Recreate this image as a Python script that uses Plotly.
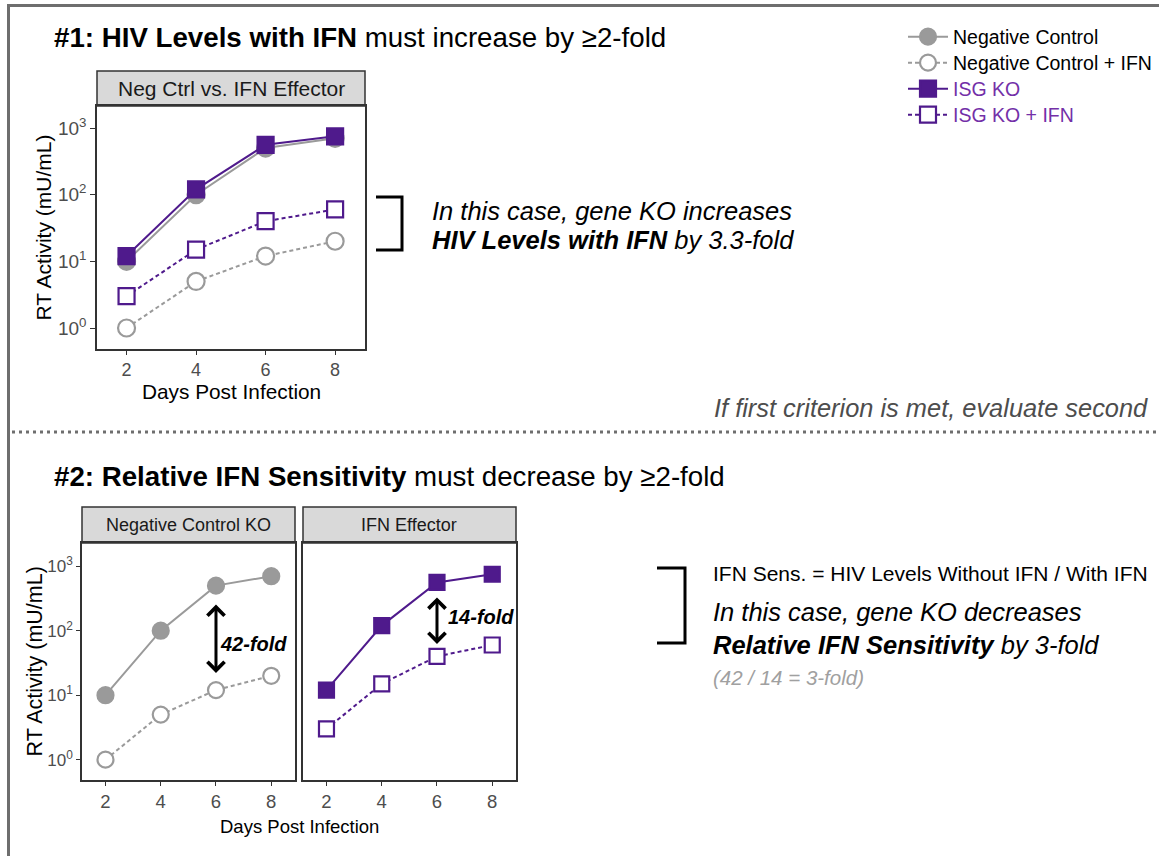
import plotly.graph_objects as go

# ---- data -------------------------------------------------------------
days = [2, 4, 6, 8]
neg_ctrl = [10, 100, 500, 700]          # Negative Control
neg_ctrl_ifn = [1, 5, 12, 20]           # Negative Control + IFN
isg_ko = [12, 120, 560, 750]            # ISG KO
isg_ko_ifn = [3, 15, 40, 60]            # ISG KO + IFN
y_tickvals = [1, 10, 100, 1000]
y_ticktext = ["10<sup>0</sup>", "10<sup>1</sup>", "10<sup>2</sup>", "10<sup>3</sup>"]
x_tickvals = [2, 4, 6, 8]

# fold changes stated in the labels, computed at day 6
ref_day = days.index(6)
fold_neg = neg_ctrl[ref_day] / neg_ctrl_ifn[ref_day]
fold_isg = isg_ko[ref_day] / isg_ko_ifn[ref_day]
fold_with_ifn = isg_ko_ifn[ref_day] / neg_ctrl_ifn[ref_day]
fold_rel = round(fold_neg) / round(fold_isg)

# ---- styling ----------------------------------------------------------
W, H = 1159, 856
FONT = "Liberation Sans, Arial, sans-serif"
GRAY = "#9a9a9a"
PURPLE = "#4f1a8c"
PURPLE_TXT = "#7330a8"
AX = "#333333"
TICK_TXT = "#4d4d4d"


def px(x):
    return x / W


def py(y):
    return 1 - y / H


fig = go.Figure()

series = [
    ("Negative Control", neg_ctrl, GRAY, "circle", GRAY, "solid"),
    ("Negative Control + IFN", neg_ctrl_ifn, GRAY, "circle", "white", "4px,3px"),
    ("<span style='color:%s'>ISG KO</span>" % PURPLE_TXT, isg_ko, PURPLE, "square", PURPLE, "solid"),
    ("<span style='color:%s'>ISG KO + IFN</span>" % PURPLE_TXT, isg_ko_ifn, PURPLE, "square", "white", "4px,3px"),
]
legend_ids = ["legend", "legend2", "legend3", "legend4"]
legend_rows = [37, 63, 89, 115]

# top panel: all four series, each with its own legend row
for (name, vals, col, sym, fill, dash), lg in zip(series, legend_ids):
    fig.add_trace(go.Scatter(
        x=days, y=vals, name=name, mode="lines+markers", xaxis="x", yaxis="y",
        line=dict(color=col, width=2, dash=dash),
        marker=dict(symbol=sym, size=17 if sym == "circle" else 16, color=fill,
                    line=dict(color=col, width=2.2)),
        showlegend=True, legend=lg,
    ))

# bottom panels: control pair on the left, effector pair on the right
for (name, vals, col, sym, fill, dash), ax in zip(series, ["2", "2", "3", "3"]):
    fig.add_trace(go.Scatter(
        x=days, y=vals, mode="lines+markers", xaxis="x" + ax, yaxis="y" + ax,
        line=dict(color=col, width=2, dash=dash),
        marker=dict(symbol=sym, size=16 if sym == "circle" else 15, color=fill,
                    line=dict(color=col, width=2.2)),
        showlegend=False,
    ))

x_range = [1.15, 8.86]
common_x = dict(range=x_range, tickvals=x_tickvals, showline=True, mirror=True,
                linecolor=AX, linewidth=1.5, ticks="outside", ticklen=4, tickwidth=1.3,
                tickcolor=AX, showgrid=False, zeroline=False)
common_y = dict(type="log", tickvals=y_tickvals, ticktext=y_ticktext, showline=True,
                mirror=True, linecolor=AX, linewidth=1.5, showgrid=False, zeroline=False)

fig.update_layout(
    xaxis=dict(domain=[px(97), px(365)], anchor="y",
               tickfont=dict(family=FONT, size=18, color=TICK_TXT), **common_x),
    yaxis=dict(domain=[py(349), py(106)], anchor="x", range=[-0.315, 3.33],
               ticks="outside", ticklen=5, tickwidth=1.3, tickcolor=AX,
               tickfont=dict(family=FONT, size=19, color=TICK_TXT), **common_y),
    xaxis2=dict(domain=[px(82), px(295)], anchor="y2",
                tickfont=dict(family=FONT, size=18.5, color=TICK_TXT), **common_x),
    yaxis2=dict(domain=[py(780), py(543)], anchor="x2", range=[-0.315, 3.36],
                ticks="outside", ticklen=4, tickwidth=1.3, tickcolor=AX,
                tickfont=dict(family=FONT, size=17, color=TICK_TXT), **common_y),
    xaxis3=dict(domain=[px(303), px(516)], anchor="y3",
                tickfont=dict(family=FONT, size=18.5, color=TICK_TXT), **common_x),
    yaxis3=dict(domain=[py(780), py(543)], anchor="x3", range=[-0.315, 3.36],
                ticks="", showticklabels=False, **common_y),
)

shapes = []
# outer frame and section divider
shapes.append(dict(type="line", xref="paper", yref="paper", x0=px(7), x1=1, y0=py(5.5), y1=py(5.5),
                   line=dict(color="#6e6e6e", width=3)))
shapes.append(dict(type="line", xref="paper", yref="paper", x0=px(8.5), x1=px(8.5), y0=0, y1=py(5),
                   line=dict(color="#6e6e6e", width=3)))
shapes.append(dict(type="line", xref="paper", yref="paper", x0=px(12), x1=1, y0=py(432), y1=py(432),
                   line=dict(color="#6e6e6e", width=3, dash="3px,4px")))
# facet strips
for x0, x1, y0, y1 in [(97, 365, 71, 106), (82, 295, 507, 543), (303, 516, 507, 543)]:
    shapes.append(dict(type="rect", xref="paper", yref="paper", x0=px(x0), x1=px(x1),
                       y0=py(y1), y1=py(y0), fillcolor="#d9d9d9", line=dict(color=AX, width=1.5),
                       layer="below"))
# brackets
for xl, xr, yt, yb in [(376, 402, 197, 250), (657, 685, 568, 643)]:
    path = "M{},{} L{},{} L{},{} L{},{}".format(px(xl), py(yt), px(xr), py(yt),
                                               px(xr), py(yb), px(xl), py(yb))
    shapes.append(dict(type="path", xref="paper", yref="paper", path=path,
                       line=dict(color="black", width=3)))
fig.update_layout(shapes=shapes)

ann = []


def text(x, y, s, size, color="black", xanchor="left", angle=0):
    ann.append(dict(x=px(x), y=py(y), xref="paper", yref="paper", text=s, showarrow=False,
                    xanchor=xanchor, yanchor="middle", textangle=angle,
                    font=dict(family=FONT, size=size, color=color)))


text(52, 38, "<b>#1: HIV Levels with IFN</b> must increase by ≥2-fold", 27.7)
text(52, 476, "<b>#2: Relative IFN Sensitivity</b> must decrease by ≥2-fold", 27.7)
text(231, 88.5, "Neg Ctrl vs. IFN Effector", 21, color="#1a1a1a", xanchor="center")
text(188.5, 525, "Negative Control KO", 18, color="#1a1a1a", xanchor="center")
text(409.5, 525, "IFN Effector", 18, color="#1a1a1a", xanchor="center")
text(43, 227.5, "RT Activity (mU/mL)", 21, xanchor="center", angle=-90)
text(34, 661.5, "RT Activity (mU/mL)", 21.5, xanchor="center", angle=-90)
text(231, 392, "Days Post Infection", 20.8, xanchor="center")
text(299, 826, "Days Post Infection", 18.5, xanchor="center")
text(1150, 408, "<i>If first criterion is met, evaluate second</i>", 25.4, color="#4d4d4d", xanchor="right")
text(430, 211, "<i>In this case, gene KO increases</i>", 25.5)
text(430, 240, "<i><b>HIV Levels with IFN</b> by %.1f-fold</i>" % fold_with_ifn, 25.5)
text(711, 573, "IFN Sens. = HIV Levels Without IFN / With IFN", 21)
text(711, 612, "<i>In this case, gene KO decreases</i>", 25.5)
text(711, 645, "<i><b>Relative IFN Sensitivity</b> by %d-fold</i>" % round(fold_rel), 25.5)
text(711, 677, "<i>(%d / %d = %d-fold)</i>" % (round(fold_neg), round(fold_isg), round(fold_rel)),
     20.5, color="#a0a0a0")

# double-headed arrows between the untreated and IFN-treated curves at day 6
for ax, y_top, y_bot in [("2", 2.43, 1.345), ("3", 2.54, 1.795)]:
    ann.append(dict(x=6, y=y_bot, ax=6, ay=y_top, xref="x" + ax, yref="y" + ax,
                    axref="x" + ax, ayref="y" + ax, showarrow=True, text="",
                    arrowhead=4, startarrowhead=4, arrowside="end+start",
                    arrowsize=1.1, startarrowsize=1.1, arrowwidth=3, arrowcolor="black"))
ann.append(dict(x=7.35, y=1.795, xref="x2", yref="y2", showarrow=False,
                text="<b><i>%d-fold</i></b>" % round(fold_neg),
                font=dict(family=FONT, size=20, color="black")))
ann.append(dict(x=7.58, y=2.214, xref="x3", yref="y3", showarrow=False,
                text="<b><i>%d-fold</i></b>" % round(fold_isg),
                font=dict(family=FONT, size=20, color="black")))

fig.update_layout(annotations=ann)

legend_style = dict(x=px(903), xanchor="left", yanchor="middle",
                    font=dict(family=FONT, size=19.5, color="black"),
                    itemwidth=40, bgcolor="rgba(0,0,0,0)")
fig.update_layout(
    width=W, height=H, margin=dict(l=0, r=0, t=0, b=0),
    paper_bgcolor="white", plot_bgcolor="white",
    **{lg: dict(y=py(row), **legend_style) for lg, row in zip(legend_ids, legend_rows)},
)

fig.write_html("out.html")
